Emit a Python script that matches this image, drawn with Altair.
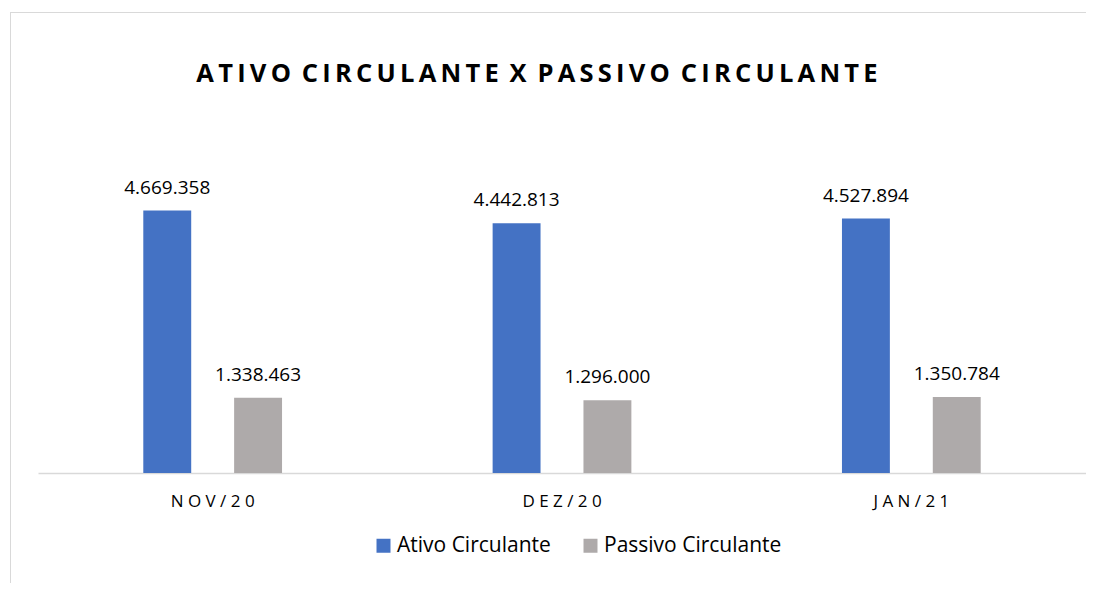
import altair as alt
import pandas as pd

months = ["NOV/20", "DEZ/20", "JAN/21"]
series = ["Ativo Circulante", "Passivo Circulante"]
ativo = [4669358, 4442813, 4527894]
passivo = [1338463, 1296000, 1350784]
colors = ["#4472C4", "#AEAAAA"]
title_words = ["ATIVO", "CIRCULANTE", "X", "PASSIVO", "CIRCULANTE"]

rows = []
for i, m in enumerate(months):
    rows.append({"mes": m, "serie": series[0], "valor": ativo[i]})
    rows.append({"mes": m, "serie": series[1], "valor": passivo[i]})
df = pd.DataFrame(rows)
df["rotulo"] = df["valor"].map(lambda v: f"{v:,}".replace(",", "."))

FONT = "Open Sans"
W, H = 1048, 281
THIN = "\u2009"
title_text = (" " + THIN).join(THIN.join(w) for w in title_words)

x = alt.X(
    "mes:N", sort=months,
    scale=alt.Scale(paddingInner=0.3428, paddingOuter=0.1714),
    axis=alt.Axis(title=None, labelAngle=0, ticks=False, domainColor="#D9D9D9",
                  domainWidth=1.5, labelFont=FONT, labelFontSize=17,
                  labelColor="#000000", labelPadding=20,
                  labelExpr="join(split(datum.label, ''), ' ')"),
)
xo = alt.XOffset("serie:N", sort=series,
                 scale=alt.Scale(paddingInner=0.4725, paddingOuter=0.5))
y = alt.Y("valor:Q", scale=alt.Scale(domain=[0, 5000000]), axis=None)
color = alt.Color(
    "serie:N", sort=series,
    scale=alt.Scale(domain=series, range=colors),
    legend=alt.Legend(title=None, orient="none", legendX=335, legendY=343,
                      direction="horizontal", symbolType="square", symbolSize=196,
                      symbolStrokeWidth=0, symbolOpacity=1, labelFont=FONT,
                      labelFontSize=21, labelColor="#000000", labelOffset=3,
                      labelLimit=400, columnPadding=29),
)

base = alt.Chart(df)
bars = base.mark_bar().encode(x=x, xOffset=xo, y=y, color=color)
labels = base.mark_text(dy=-17, baseline="alphabetic", font=FONT, fontSize=19,
                        color="#000000").encode(x=x, xOffset=xo, y=y, text="rotulo:N")

one = pd.DataFrame({"k": [0]})
frame_top = alt.Chart(one).mark_rule(stroke="#D9D9D9", strokeWidth=1).encode(
    x=alt.value(-28), x2=alt.value(1100), y=alt.value(-179.5))
frame_left = alt.Chart(one).mark_rule(stroke="#D9D9D9", strokeWidth=1).encode(
    x=alt.value(-27.5), y=alt.value(-179.5), y2=alt.value(480))
title = alt.Chart(one).mark_text(text=title_text, font=FONT, fontSize=25.5, fontWeight="bold",
                                 color="#000000", baseline="alphabetic", align="center").encode(
    x=alt.value(499), y=alt.value(-110))

chart = alt.layer(frame_top, frame_left, bars, labels, title).properties(
    width=W, height=H,
    autosize=alt.AutoSizeParams(type="none"),
    padding={"left": 30, "top": 184, "right": 0, "bottom": 110},
).configure_view(stroke=None)

chart.save("out.html", embed_options={"renderer": "svg", "actions": False})
